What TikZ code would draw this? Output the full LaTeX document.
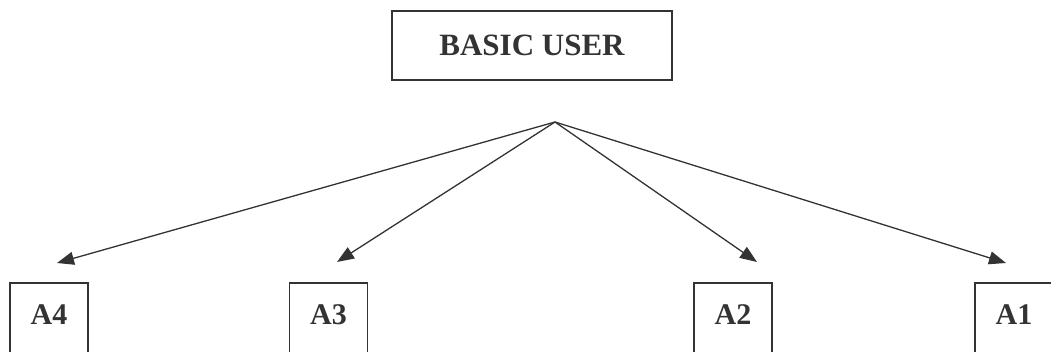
\documentclass[tikz,border=0pt]{standalone}
\usepackage{fontspec}
\setmainfont{Liberation Serif}
\usetikzlibrary{arrows.meta}
\definecolor{ink}{HTML}{333333}
\begin{document}
\begin{tikzpicture}[x=1pt,y=-1pt,
  topbox/.style={draw=ink,line width=1.3pt,minimum width=280pt,minimum height=69pt,inner sep=0pt,
     font=\fontsize{31}{36}\selectfont\bfseries,text=ink},
  leafbox/.style={draw=ink,line width=1.3pt,minimum width=78pt,inner sep=0pt,anchor=base,
     text height=41pt,text depth=45pt,font=\fontsize{30}{34}\selectfont\bfseries,text=ink},
  conn/.style={draw=ink,line width=1.3pt,-{Triangle[length=17pt,width=13pt]}}]
\useasboundingbox (0,0) rectangle (1051,351);
\clip (0,0) rectangle (1051,351);
\node[topbox] (bu) at (532,45.5) {BASIC USER};
\coordinate (apex) at (555,122);
\node[leafbox] (a4) at (49,324) {A4};
\node[leafbox] (a3) at (328.5,324) {A3};
\node[leafbox] (a2) at (733,324) {A2};
\node[leafbox] (a1) at (1014,324) {A1};
\coordinate (t4) at (57,263);
\coordinate (t3) at (337,262);
\coordinate (t2) at (757,262);
\coordinate (t1) at (1006,263);
\draw[conn] (apex) -- (t4);
\draw[conn] (apex) -- (t3);
\draw[conn] (apex) -- (t2);
\draw[conn] (apex) -- (t1);
\end{tikzpicture}
\end{document}
